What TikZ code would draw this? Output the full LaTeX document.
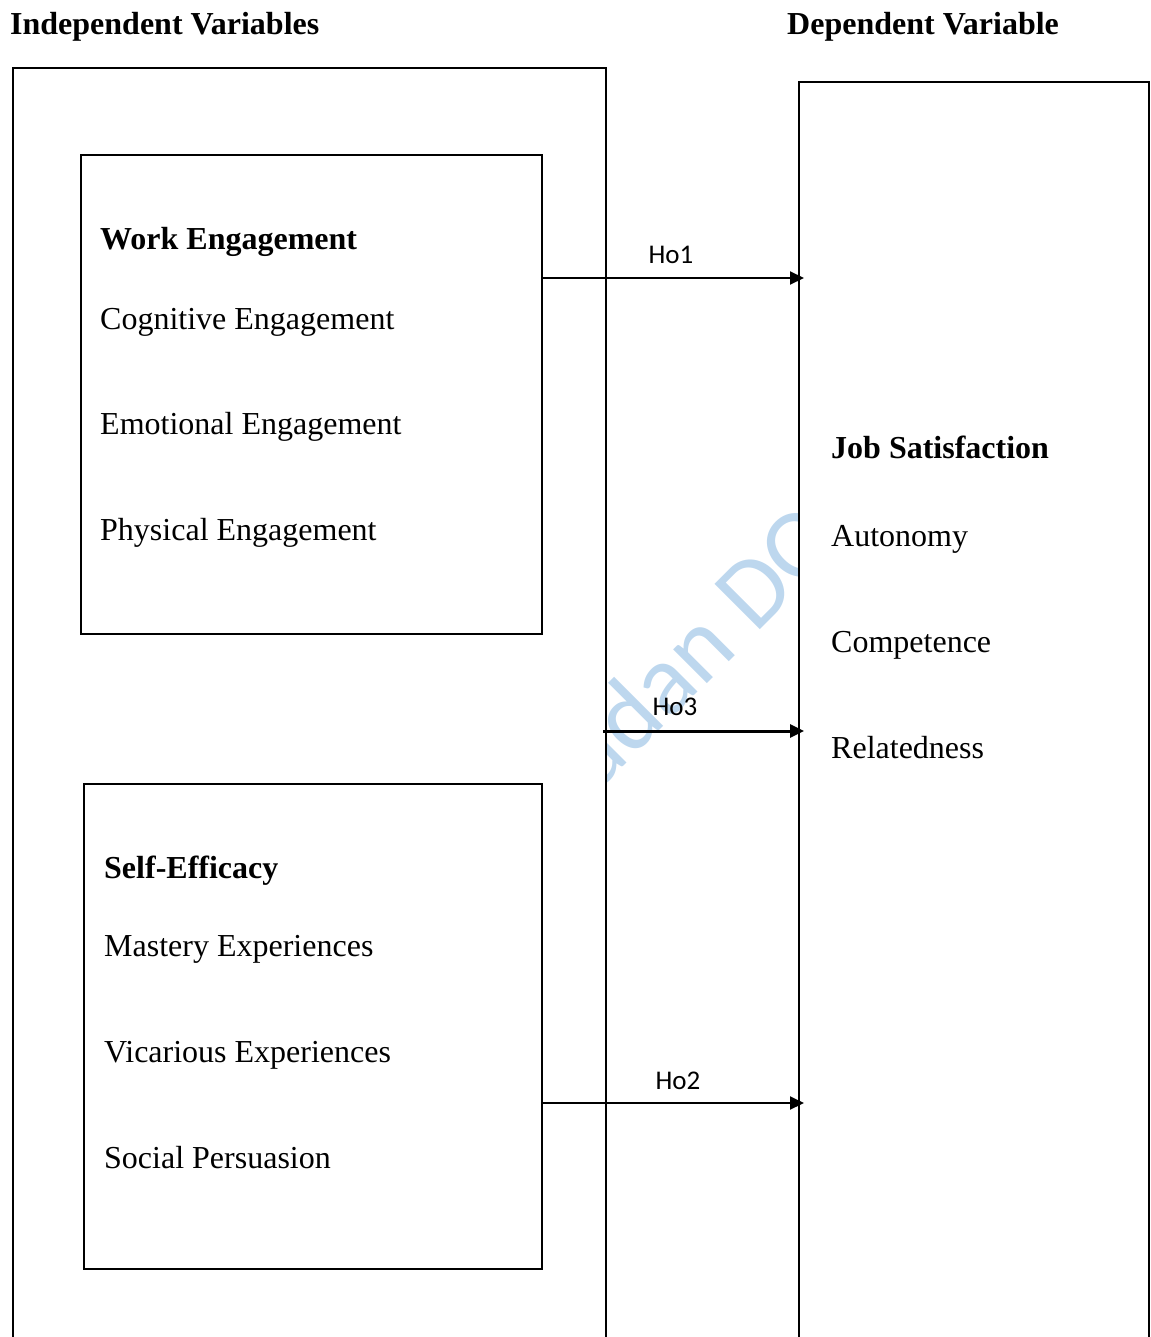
\documentclass[tikz,border=0pt]{standalone}
\usepackage{fontspec}
\setmainfont{Liberation Serif}
\newfontfamily\labelfont{Carlito}
\usetikzlibrary{arrows.meta}
\definecolor{wmark}{RGB}{189,215,238}
\begin{document}
\begin{tikzpicture}[x=1pt,y=-1pt,
  frame/.style={line width=2pt},
  innerbox/.style={draw,line width=2pt,anchor=north west,inner sep=0pt},
  item/.style={anchor=west,inner sep=0pt,font=\fontsize{32}{38}\selectfont},
  head/.style={anchor=west,inner sep=0pt,font=\fontsize{32}{38}\selectfont\bfseries},
  hyp/.style={-{Triangle[length=14pt,width=13pt]},line width=2pt},
  hlabel/.style={font=\labelfont\fontsize{27}{32}\selectfont,inner sep=0pt}]
\useasboundingbox (0,0) rectangle (1150,1337);

% faint watermark lettering visible between the two columns
\begin{scope}
  \clip (607,0) rectangle (799,1337);
  \node[text=wmark,font=\labelfont\fontsize{100}{105}\selectfont,rotate=45,
        anchor=base west,inner sep=0pt] (wm) at (597,793) {adan DOC};
\end{scope}

% column headings
\node[head] (ivhead) at (10,27) {Independent Variables};
\node[head] (dvhead) at (787,27) {Dependent Variable};

% outer frames, running past the lower edge
\draw[frame] (13,1350) |- (606,68) -- (606,1350);
\draw[frame] (799,1350) |- (1149,82) -- (1149,1350);
\coordinate (ivright) at (606,731);

% work engagement block
\node[innerbox,minimum width=461pt,minimum height=479pt] (we) at (80,154) {};
\node[head] (wet) at (100,242) {Work Engagement};
\node[item] (we1) at (100,322) {Cognitive Engagement};
\node[item] (we2) at (100,427) {Emotional Engagement};
\node[item] (we3) at (100,533) {Physical Engagement};

% self-efficacy block
\node[innerbox,minimum width=458pt,minimum height=485pt] (se) at (83,783) {};
\node[head] (set) at (104,871) {Self-Efficacy};
\node[item] (se1) at (104,949) {Mastery Experiences};
\node[item] (se2) at (104,1055) {Vicarious Experiences};
\node[item] (se3) at (104,1158) {Social Persuasion};

% dependent variable
\node[head] (jst) at (831,447) {Job Satisfaction};
\node[item] (js1) at (831,539) {Autonomy};
\node[item] (js2) at (831,645) {Competence};
\node[item] (js3) at (831,748) {Relatedness};

% hypothesis arrows
\coordinate (h1) at (804,278);
\coordinate (h3) at (804,731);
\coordinate (h2) at (804,1103);
\draw[hyp] (we.east |- h1) -- (h1);
\draw[hyp,line width=3pt] ([xshift=-3pt]ivright) -- (h3);
\draw[hyp] (se.east |- h2) -- (h2);
\node[hlabel] (l1) at (671,255) {Ho1};
\node[hlabel] (l3) at (675,707) {Ho3};
\node[hlabel] (l2) at (678,1081) {Ho2};
\end{tikzpicture}
\end{document}
